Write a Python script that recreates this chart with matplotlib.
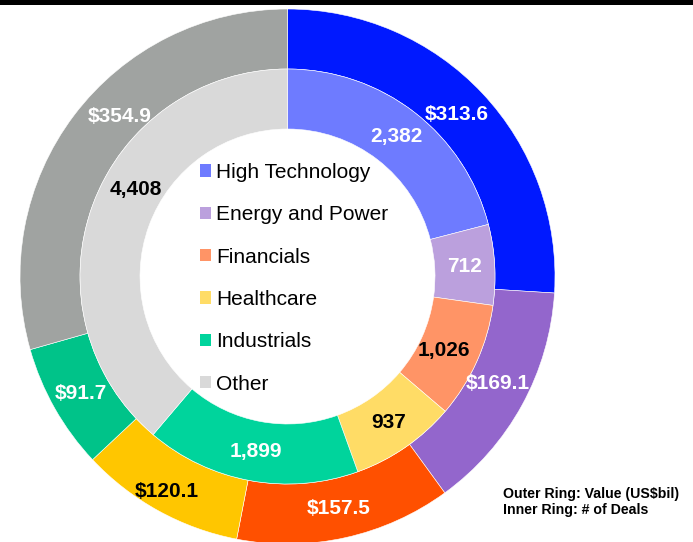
"""
Two-ring donut: outer ring = deal value (US$bil), inner ring = number of deals,
by target sector. Figure drawn in pixel-like data units so the rings line up.
"""

import numpy as np
import matplotlib
matplotlib.use("Agg")
import matplotlib.pyplot as plt
from matplotlib.patches import Patch, Rectangle

plt.rcParams["font.family"] = ["Liberation Sans", "DejaVu Sans"]

SECTORS = ["High Technology", "Energy and Power", "Financials",
           "Healthcare", "Industrials", "Other"]
VALUE_BIL = [313.6, 169.1, 157.5, 120.1, 91.7, 354.9]
NUM_DEALS = [2382, 712, 1026, 937, 1899, 4408]

OUTER_COLORS = ["#0019FF", "#9366CC", "#FF5000", "#FFC600", "#00C389", "#A0A3A1"]
INNER_COLORS = ["#6E7BFF", "#BBA0DD", "#FF9466", "#FFDC66", "#00D49C", "#D9D9D9"]
OUTER_TXT = ["white", "white", "white", "black", "white", "white"]
INNER_TXT = ["white", "white", "black", "black", "white", "black"]

# label nudges (px right, px down) where the original sits off mid-slice
OUTER_NUDGE = {5: (22, -17), 1: (2, -7), 3: (-6, 7), 0: (-4, 1)}
INNER_NUDGE = {5: (15, -26), 2: (-5, 1)}

W, H = 693, 542
CX, CY = 287.5, H - 276.5
R_OUT, R_MID, R_HOLE = 267.5, 207.5, 147.5
FS = 15


def ring_labels(ax, values, r_outer, width, texts, colors, nudge):
    vals = np.asarray(values, dtype=float)
    cum = np.cumsum(vals)
    mid = cum - vals / 2
    ang = np.deg2rad(90 - 360 * mid / vals.sum())
    r = r_outer - width / 2
    for i, (a, t, c) in enumerate(zip(ang, texts, colors)):
        dx, dy = nudge.get(i, (0, 0))
        ax.text(CX + r * np.cos(a) + dx, CY + r * np.sin(a) - dy, t, color=c,
                ha="center", va="center", fontsize=FS, fontweight="bold")


fig = plt.figure(figsize=(W / 100, H / 100), dpi=100)
ax = fig.add_axes([0, 0, 1, 1])

ax.pie(VALUE_BIL, colors=OUTER_COLORS, startangle=90, counterclock=False,
       radius=R_OUT, center=(CX, CY),
       wedgeprops=dict(width=R_OUT - R_MID, edgecolor="white", linewidth=0.4))
ax.pie(NUM_DEALS, colors=INNER_COLORS, startangle=90, counterclock=False,
       radius=R_MID, center=(CX, CY),
       wedgeprops=dict(width=R_MID - R_HOLE, edgecolor="white", linewidth=0.4))

ring_labels(ax, VALUE_BIL, R_OUT, R_OUT - R_MID,
            [f"${v:.1f}" for v in VALUE_BIL], OUTER_TXT, OUTER_NUDGE)
ring_labels(ax, NUM_DEALS, R_MID, R_MID - R_HOLE,
            [f"{v:,}" for v in NUM_DEALS], INNER_TXT, INNER_NUDGE)

ax.set_xlim(0, W)
ax.set_ylim(0, H)
ax.set_aspect("equal")
ax.axis("off")

handles = [Patch(facecolor=c, edgecolor="none") for c in INNER_COLORS]
ax.legend(handles, SECTORS, loc="upper left", bbox_to_anchor=(200 / W, 1 - 163 / H),
          frameon=False, fontsize=FS, handlelength=0.53, handleheight=0.53,
          handletextpad=0.25, labelspacing=1.12, borderaxespad=0, borderpad=0)

fig.text(503 / W, 1 - 502 / H, "Outer Ring: Value (US$bil)\nInner Ring: # of Deals",
         fontsize=10.2, fontweight="bold", va="center", ha="left", linespacing=1.1)

# thin black band along the top edge
fig.patches.append(Rectangle((0, 1 - 5 / H), 1, 5 / H, transform=fig.transFigure,
                             facecolor="black", edgecolor="none", zorder=10))

fig.savefig("out.png", dpi=100)
